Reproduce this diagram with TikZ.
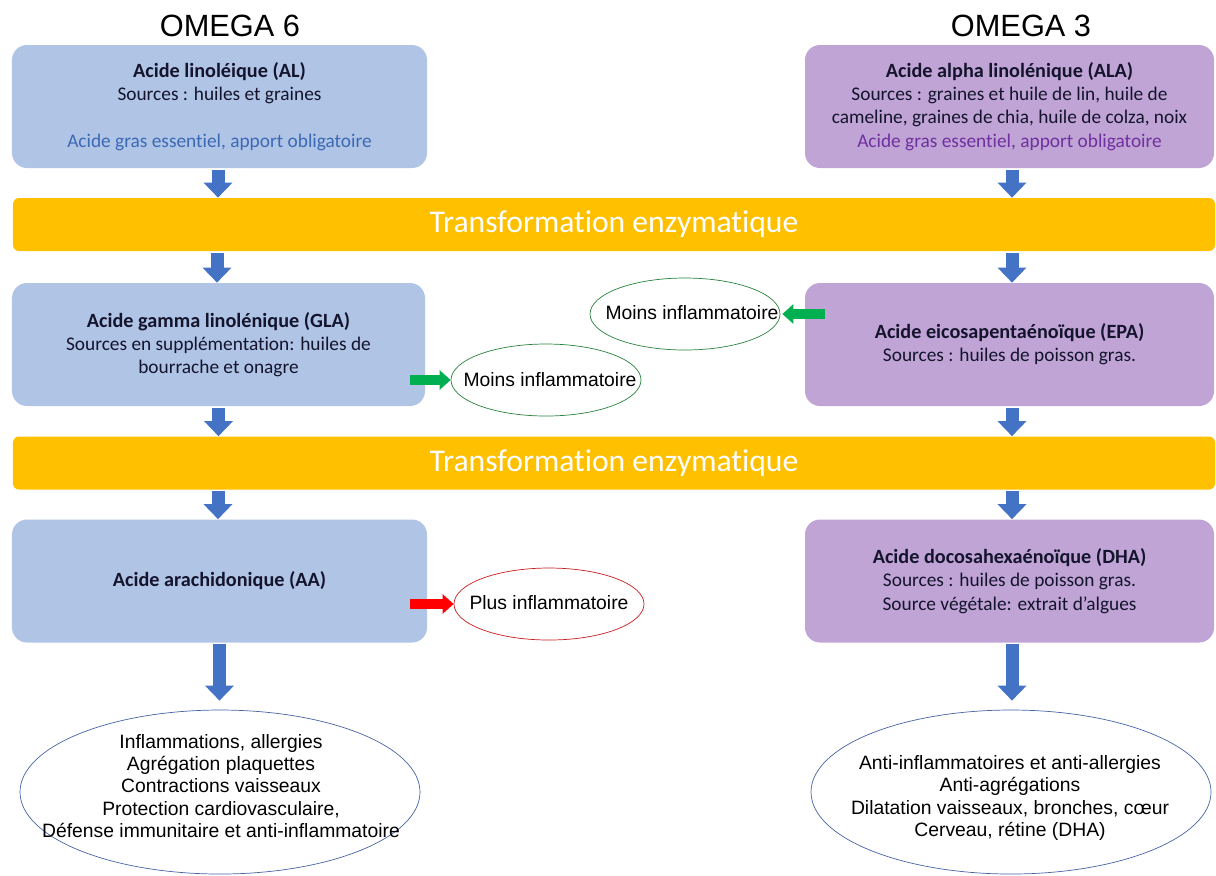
\documentclass[tikz,border=0pt]{standalone}
\usepackage{fontspec}
\setmainfont{Carlito}[Ligatures=NoCommon]
\newfontfamily\arialfont{Liberation Sans}
\usepackage{xcolor}
\usetikzlibrary{arrows.meta,shapes.geometric}
\definecolor{boxblue}{RGB}{176,196,230}
\definecolor{boxpurple}{RGB}{192,164,214}
\definecolor{bandorange}{RGB}{255,192,0}
\definecolor{arrowblue}{RGB}{68,114,196}
\definecolor{arrowgreen}{RGB}{0,176,80}
\definecolor{arrowred}{RGB}{255,0,0}
\definecolor{ellgreen}{RGB}{40,130,60}
\definecolor{ellred}{RGB}{200,30,30}
\definecolor{ellblue}{RGB}{70,100,165}
\definecolor{textblue}{RGB}{60,105,180}
\definecolor{textpurple}{RGB}{112,48,160}
\definecolor{textdark}{RGB}{20,20,45}
\newcommand{\acidname}[1]{{\fontsize{11.5}{13.2}\selectfont\bfseries #1}}

\begin{document}
\begin{tikzpicture}[x=0.2mm,y=-0.2mm,
    acidbox/.style={rounded corners=3mm,minimum width=83mm,minimum height=24.6mm,inner sep=0pt,align=center,text=textdark,font=\fontsize{11}{13.2}\selectfont},
    band/.style={fill=bandorange,rounded corners=1.2mm,minimum width=240.4mm,minimum height=10.6mm,text=white,font=\fontsize{18}{20}\selectfont},
    effect/.style={ellipse,draw=ellblue,fill=white,minimum width=80mm,minimum height=32.8mm},
    flow/.style={line width=2.6mm,arrowblue,-{Triangle[width=5.6mm,length=3mm]}},
    side/.style={line width=2mm,-{Triangle[width=3.8mm,length=2.2mm]}},
    smallell/.style={ellipse,draw,fill=white,inner sep=0pt,minimum width=38mm,minimum height=14.4mm},
    arialtext/.style={font=\arialfont\fontsize{11}{12.6}\selectfont,align=center},
    title/.style={font=\arialfont\fontsize{17.5}{20}\selectfont}]
  \useasboundingbox (0,0) rectangle (1216,875);
  \node[title] (om6) at (230,26) {OMEGA 6};
  \node[title] (om3) at (1021,26) {OMEGA 3};
  \node[acidbox,fill=boxblue] (al) at (219.5,106.5) {\acidname{Acide linoléique (AL)}\\Sources : huiles et graines\\[13.2pt]\textcolor{textblue}{Acide gras essentiel, apport obligatoire}};
  \node[acidbox,fill=boxpurple,minimum width=81.8mm] (ala) at (1009.5,106.5) {\acidname{Acide alpha linolénique  (ALA)}\\Sources : graines et huile de lin, huile de\\cameline, graines de chia, huile de colza, noix\\\textcolor{textpurple}{Acide gras essentiel, apport obligatoire}};
  \node[band] (tr1) at (614,224.5) {Transformation enzymatique};
  \node[acidbox,fill=boxblue,minimum width=82.6mm] (gla) at (218.5,344.5) {\acidname{Acide gamma linolénique  (GLA)}\\Sources en supplémentation: huiles de\\bourrache et onagre};
  \node[acidbox,fill=boxpurple,minimum width=81.8mm] (epa) at (1009.5,344.5) {\acidname{Acide eicosapentaénoïque (EPA)}\\Sources : huiles de poisson gras.};
  \node[band] (tr2) at (614,463) {Transformation enzymatique};
  \node[acidbox,fill=boxblue] (aa) at (219.5,581) {\acidname{Acide arachidonique  (AA)}};
  \node[acidbox,fill=boxpurple,minimum width=81.8mm] (dha) at (1009.5,581) {\acidname{Acide docosahexaénoïque  (DHA)}\\Sources : huiles de poisson gras.\\Source végétale: extrait d’algues};
  \node[smallell,draw=ellgreen] (m6) at (546,380) {};
  \node[arialtext] (m6t) at (550,380) {Moins inflammatoire};
  \node[smallell,draw=ellgreen] (m3) at (685,314) {};
  \node[arialtext] (m3t) at (692,313) {Moins inflammatoire};
  \node[smallell,draw=ellred] (p6) at (549,604) {};
  \node[arialtext] (p6t) at (549,603) {Plus inflammatoire};
  \node[effect] (eff6) at (220,792) {};
  \node[arialtext] (eff6t) at (221,786) {Inflammations, allergies\\Agrégation plaquettes\\Contractions vaisseaux\\Protection cardiovasculaire,\\Défense immunitaire et anti-inflammatoire};
  \node[effect] (eff3) at (1011,792) {};
  \node[arialtext] (eff3t) at (1010,798) {Anti-inflammatoires et anti-allergies\\Anti-agrégations\\Dilatation vaisseaux, bronches, cœur\\Cerveau, rétine (DHA)};
  \draw[flow] ([xshift=-0.3mm,yshift=-0.3mm]al.south) -- ([xshift=-0.3mm]al.south |- tr1.north);
  \draw[flow] ([xshift=0.5mm,yshift=-0.3mm]ala.south) -- ([xshift=0.5mm]ala.south |- tr1.north);
  \draw[flow] ([xshift=-0.3mm,yshift=-0.3mm]gla.north |- tr1.south) -- ([xshift=-0.3mm]gla.north);
  \draw[flow] ([xshift=0.5mm,yshift=-0.3mm]epa.north |- tr1.south) -- ([xshift=0.5mm]epa.north);
  \draw[flow] ([yshift=-0.3mm]gla.south) -- (gla.south |- tr2.north);
  \draw[flow] ([xshift=0.5mm,yshift=-0.3mm]epa.south) -- ([xshift=0.5mm]epa.south |- tr2.north);
  \draw[flow] ([xshift=-0.3mm,yshift=-0.3mm]aa.north |- tr2.south) -- ([xshift=-0.3mm]aa.north);
  \draw[flow] ([xshift=0.5mm,yshift=-0.3mm]dha.north |- tr2.south) -- ([xshift=0.5mm]dha.north);
  \draw[flow,shorten >=1.8mm] ([yshift=-0.3mm]aa.south) -- (aa.south |- eff6.north);
  \draw[flow,shorten >=1.8mm] ([xshift=0.5mm,yshift=-0.3mm]dha.south) -- ([xshift=0.5mm]dha.south |- eff3.north);
  \draw[side,arrowgreen] ([xshift=-3mm]gla.east |- m6.west) -- (m6.west);
  \draw[side,arrowgreen] ([xshift=4mm]epa.west |- m3.east) -- ([xshift=0.4mm]m3.east);
  \draw[side,arrowred] ([xshift=-3.4mm]aa.east |- p6.west) -- (p6.west);
\end{tikzpicture}
\end{document}
